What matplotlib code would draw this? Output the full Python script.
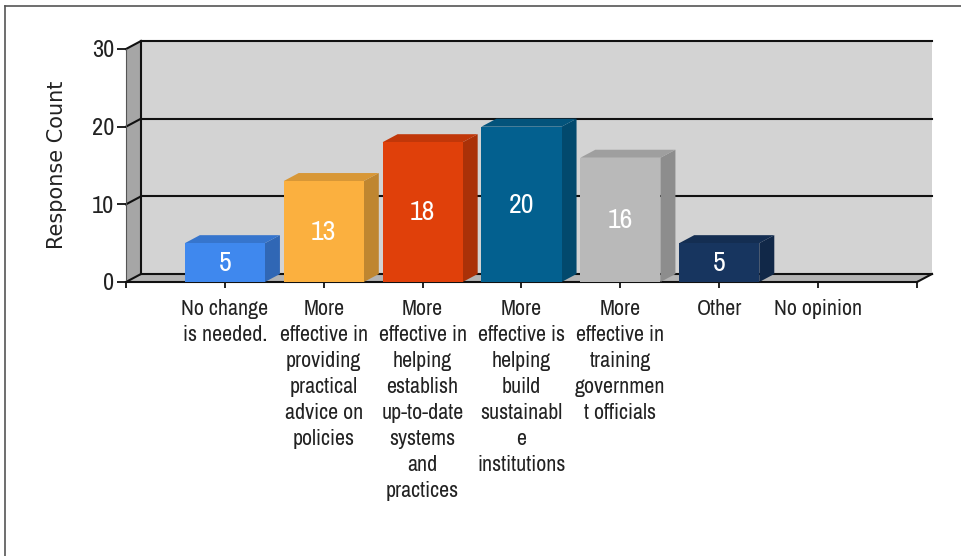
import matplotlib
matplotlib.use('Agg')
import matplotlib.pyplot as plt
from matplotlib import font_manager
from matplotlib.colors import to_rgb
from matplotlib.lines import Line2D
from matplotlib.patches import Polygon

categories = ['No change\nis needed.',
              'More\neffective in\nproviding\npractical\nadvice on\npolicies',
              'More\neffective in\nhelping\nestablish\nup-to-date\nsystems\nand\npractices',
              'More\neffective is\nhelping\nbuild\nsustainabl\ne\ninstitutions',
              'More\neffective in\ntraining\ngovernmen\nt officials',
              'Other',
              'No opinion']
values = [5, 13, 18, 20, 16, 5, 0]
colors = ['#3f88ee', '#fbb03f', '#e0400a', '#03608f', '#b9b9b9', '#17355f', '#17355f']
y_ticks = [0, 10, 20, 30]

# use a condensed face if the machine has one
names = sorted({f.name for f in font_manager.fontManager.ttflist})
cond = [n for n in names if 'Condensed' in n or 'Narrow' in n]
narrow = cond[0] if cond else 'Roboto'

W, H = 962, 556
fig = plt.figure(figsize=(W / 100, H / 100), dpi=100)
ax = fig.add_axes([126 / W, 1 - 282 / H, 791 / W, 233 / H])
ax.set_xlim(0, 8)
ax.set_ylim(0, 30)
ax.patch.set_visible(False)
for s in ax.spines.values():
    s.set_visible(False)

# depth of the fake 3d box, in data units
dx = 15 / (791 / 8)
dy = 8 / (233 / 30)
bar_w = 0.81


def shade(c, f):
    return tuple(v * f for v in to_rgb(c))


def poly(pts, color, z=1):
    ax.add_patch(Polygon(pts, closed=True, fc=color, ec='none', zorder=z, clip_on=False))


def line(xs, ys, z=2, lw=1.5, color='#111111'):
    ax.add_line(Line2D(xs, ys, color=color, lw=lw, zorder=z, clip_on=False))


# walls and floor
poly([(dx, dy), (8 + dx, dy), (8 + dx, 30 + dy), (dx, 30 + dy)], '#d3d3d3')
poly([(0, 0), (dx, dy), (dx, 30 + dy), (0, 30)], '#a6a6a6')
poly([(0, 0), (8, 0), (8 + dx, dy), (dx, dy)], '#b4b4b4')

for t in y_ticks:
    line([dx, 8 + dx], [t + dy, t + dy])
    line([0, dx], [t, t + dy])
line([dx, dx], [dy, 30 + dy])
line([0, 0], [0, 30], lw=0.8, color='#555555')
line([0, 8], [0, 0])
line([8, 8 + dx], [0, dy])

# bars
for i, (v, c) in enumerate(zip(values, colors)):
    if v == 0:
        continue
    x0 = i + 1 - bar_w / 2
    x1 = i + 1 + bar_w / 2
    ax.bar(i + 1, v, width=bar_w, color=c, zorder=4)
    poly([(x1, 0), (x1 + dx, dy), (x1 + dx, v + dy), (x1, v)], shade(c, 0.76), 3)
    poly([(x0, v), (x1, v), (x1 + dx, v + dy), (x0 + dx, v + dy)], shade(c, 0.86), 3)
    ax.text(i + 1, v / 2 - 0.1, str(v), color='white', ha='center', va='center',
            fontsize=20, family=narrow, fontweight='bold', zorder=5)

ax.set_yticks(y_ticks)
ax.set_yticklabels([str(t) for t in y_ticks], family=narrow, fontsize=17.5, color='#222222')
ax.set_xticks(range(0, 9))
ax.set_xticklabels([''] + categories + [''], family=narrow, fontsize=15.8, color='#222222',
                   linespacing=1.38)
ax.tick_params(axis='y', length=6.5, width=1.3, color='#111111', pad=2)
ax.tick_params(axis='x', length=4, width=1.3, color='#111111', pad=8)

fig.text(57 / W, 1 - 165 / H, 'Response Count', rotation=90, ha='center', va='center',
         family='DejaVu Sans', fontsize=15, color='#222222')

# scan border of the picture
fig.add_artist(Line2D([5 / W, 5 / W], [0, 1 - 6 / H], color='#555555', lw=1.2))
fig.add_artist(Line2D([5 / W, 1], [1 - 6 / H, 1 - 6 / H], color='#555555', lw=1.2))

fig.savefig('out.png', dpi=100)
